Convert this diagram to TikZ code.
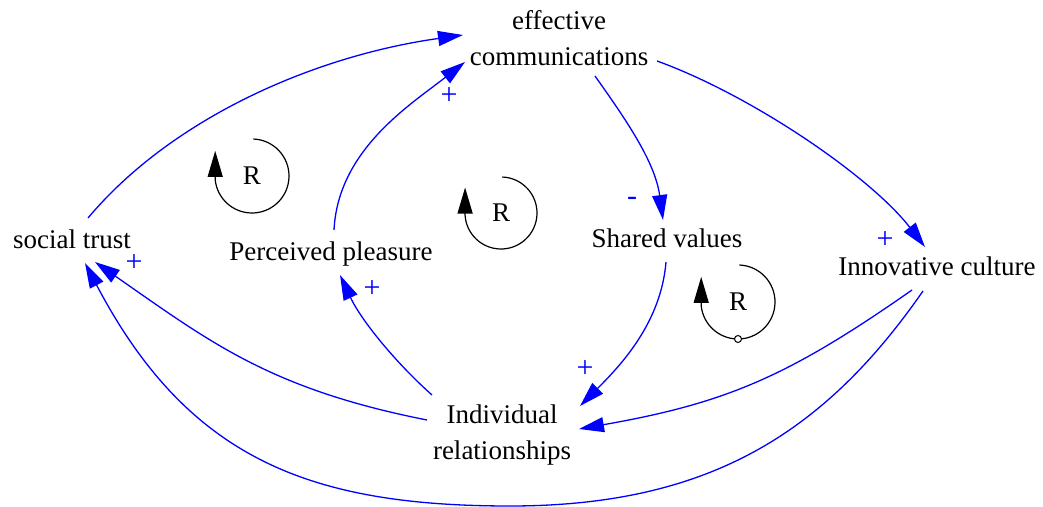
\documentclass[tikz,border=0pt]{standalone}
\usepackage{fontspec}
\setmainfont{Liberation Serif}
\usetikzlibrary{arrows.meta,calc}
\begin{document}
\begin{tikzpicture}[x=1pt,y=1pt,
  lbl/.style={font=\fontsize{27}{36}\selectfont, inner sep=0pt, align=center},
  link/.style={draw=blue, line width=1.3pt, -{Triangle[length=25pt,width=15pt]}},
  pol/.style={text=blue, font=\fontsize{30}{30}\selectfont, inner sep=0pt},
  loopr/.style={draw=black, line width=1.2pt, -{Triangle[length=26pt,width=15pt]}},
  rlabel/.style={font=\fontsize{27}{27}\selectfont, inner sep=0pt}]
\useasboundingbox (0,0) rectangle (1043,506);
% variables
\node[lbl] (ec) at (559,468) {effective\\communications};
\node[lbl] (ir) at (502,71) {Individual\\relationships};
\node[lbl, anchor=base] (st) at (72,257) {social trust};
\node[lbl, anchor=base] (pp) at (331,245) {Perceived pleasure};
\node[lbl, anchor=base] (sv) at (667,258) {Shared values};
\node[lbl, anchor=base] (ic) at (937,230) {Innovative culture};
% links
\draw[link] ($(st.base)+(16,31)$) .. controls (172,388) and (314,450) .. ($(ec)+(-96,3)$);
\draw[link] ($(pp.base)+(3,31)$) .. controls (338,356) and (410,401) .. ($(ec)+(-94,-24)$);
\draw[link] ($(ec)+(36,-38)$) .. controls (624,389) and (655,345) .. ($(sv.base)+(-4,28)$);
\draw[link] ($(ec)+(98,-23)$) .. controls (751,411) and (870,330) .. ($(ic.base)+(-12,29)$);
\draw[link] ($(sv.base)+(-1,-14)$) .. controls (661,184) and (622,142) .. ($(ir)+(78,29)$);
\draw[link] ($(ic.base)+(-25,-14)$) .. controls (789,130) and (727,103) .. ($(ir)+(77,6)$);
\draw[link] ($(ic.base)+(-14,-15)$) .. controls (825,74) and (710,0) .. (510,0)
  .. controls (310,0) and (188,47) .. ($(st.base)+(13,-14)$);
\draw[link] ($(ir)+(-75,15)$) .. controls (270,117) and (210,164) .. ($(st.base)+(23,-13)$);
\draw[link] ($(ir)+(-70,40)$) .. controls (395,144) and (361,186) .. ($(pp.base)+(9,-14)$);
% polarities
\node[pol] (p1) at (449,410) {+};
\node[pol] (p2) at (632,305) {-};
\node[pol] (p3) at (885,266) {+};
\node[pol] (p4) at (134,243) {+};
\node[pol] (p5) at (372,217) {+};
\node[pol] (p6) at (585,137) {+};
% loops
\node[rlabel] (r1) at (252,330) {R};
\node[rlabel] (r2) at (501,293) {R};
\node[rlabel] (r3) at (738,204) {R};
\draw[loopr] ([shift={(88:37)}]r1.center) arc[start angle=88, end angle=-174, radius=37] -- ++(0,29);
\draw[loopr] ([shift={(88:36)}]r2.center) arc[start angle=88, end angle=-176, radius=36] -- ++(0,28);
\draw[loopr] ([shift={(88:37)}]r3.center) arc[start angle=88, end angle=-174, radius=37] -- ++(0,29);
\node[circle, draw=black, fill=white, line width=1pt, inner sep=0pt, minimum size=7pt] (r3c) at ($(r3.center)+(0,-37)$) {};
\end{tikzpicture}
\end{document}
